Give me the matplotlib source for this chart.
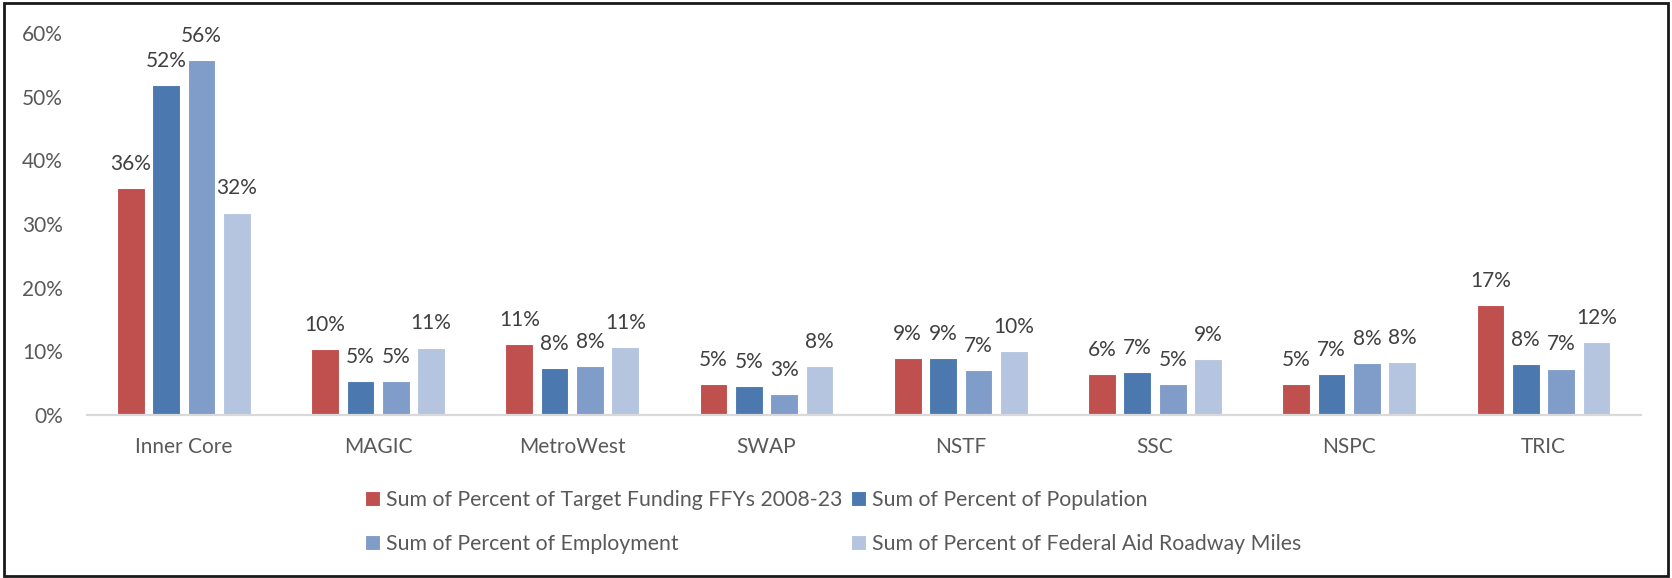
import matplotlib
matplotlib.use("Agg")
import matplotlib.pyplot as plt
import matplotlib.patches as mpatches
import numpy as np

categories = ["Inner Core", "MAGIC", "MetroWest", "SWAP", "NSTF", "SSC", "NSPC", "TRIC"]
series_names = [
    "Sum of Percent of Target Funding FFYs 2008-23",
    "Sum of Percent of Population",
    "Sum of Percent of Employment",
    "Sum of Percent of Federal Aid Roadway Miles",
]
funding = [35.7, 10.4, 11.1, 4.8, 8.9, 6.4, 4.8, 17.3]
population = [51.9, 5.3, 7.4, 4.6, 8.9, 6.8, 6.5, 8.0]
employment = [55.7, 5.3, 7.7, 3.3, 7.1, 4.8, 8.1, 7.3]
roadway = [31.8, 10.6, 10.7, 7.7, 10.0, 8.8, 8.3, 11.5]
label_funding = ["36%", "10%", "11%", "5%", "9%", "6%", "5%", "17%"]
label_population = ["52%", "5%", "8%", "5%", "9%", "7%", "7%", "8%"]
label_employment = ["56%", "5%", "8%", "3%", "7%", "5%", "8%", "7%"]
label_roadway = ["32%", "11%", "11%", "8%", "10%", "9%", "8%", "12%"]
yticks = [0, 10, 20, 30, 40, 50, 60]
ytick_labels = ["0%", "10%", "20%", "30%", "40%", "50%", "60%"]

colors = ["#C0504D", "#4A78AF", "#7F9DC8", "#B5C4DF"]

plt.rcParams["font.family"] = ["Lato", "DejaVu Sans"]

W, H = 1672, 578
fig = plt.figure(figsize=(W / 100, H / 100), dpi=100)
ax = fig.add_axes([86.7 / W, 1 - 415 / H, (1640.6 - 86.7) / W, (415 - 33) / H])

values = [funding, population, employment, roadway]
labels = [label_funding, label_population, label_employment, label_roadway]
x = np.arange(len(categories))
pitch = 0.182
bw = 0.1425
handles = []
for i, (vals, labs, c) in enumerate(zip(values, labels, colors)):
    pos = x + (i - 1.5) * pitch
    b = ax.bar(pos, vals, width=bw, color=c, edgecolor="white", linewidth=0.8,
               label=series_names[i], zorder=2)
    handles.append(b)
    for px, v, t in zip(pos, vals, labs):
        ax.annotate(t, (px, v), xytext=(0, 13), textcoords="offset points",
                    ha="center", va="baseline", fontsize=15, color="#404040")

ax.set_xlim(-0.5, len(categories) - 0.5)
ax.set_ylim(0, 60)
ax.set_yticks(yticks)
ax.set_yticklabels(ytick_labels)
ax.set_xticks(x)
ax.set_xticklabels(categories)
ax.tick_params(axis="y", length=0, pad=17, labelsize=15, labelcolor="#595959")
ax.tick_params(axis="x", length=0, pad=16, labelsize=15, labelcolor="#595959")
for s in ["top", "right", "left"]:
    ax.spines[s].set_visible(False)
ax.spines["bottom"].set_color("#D9D9D9")
ax.spines["bottom"].set_linewidth(1.6)
ax.spines["bottom"].set_zorder(3)

order = [0, 2, 1, 3]
leg = fig.legend([handles[k] for k in order], [series_names[k] for k in order],
                 loc="center", bbox_to_anchor=(833 / W, 1 - 522 / H), ncol=2,
                 frameon=False, fontsize=15.3, handlelength=0.7, handleheight=0.7,
                 handletextpad=0.3, columnspacing=0.4, labelspacing=1.1)
for t in leg.get_texts():
    t.set_color("#595959")

border = mpatches.Rectangle((4 / W, 2.5 / H), (W - 8) / W, (H - 5.5) / H,
                            transform=fig.transFigure, fill=False,
                            edgecolor="#1a1a1a", linewidth=2.0)
fig.patches.append(border)

fig.savefig("out.png", dpi=100)
